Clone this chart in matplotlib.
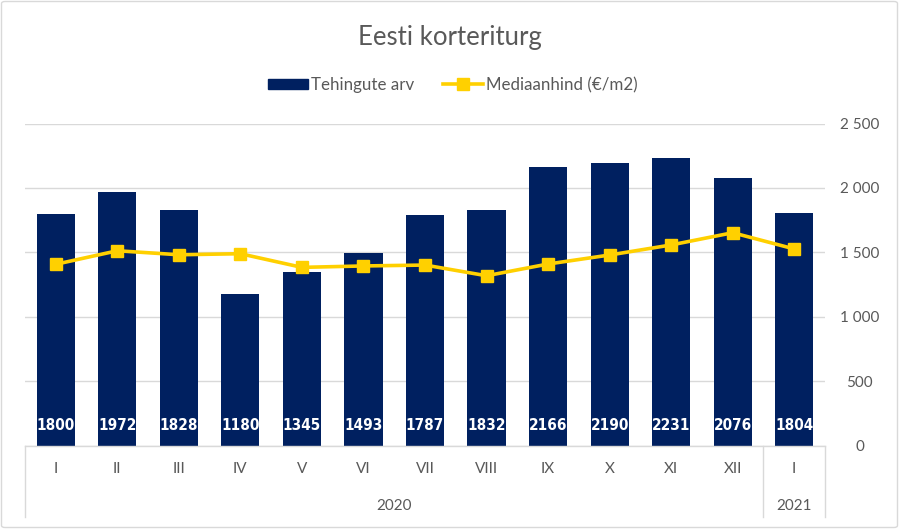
import matplotlib
matplotlib.use("Agg")
import matplotlib.pyplot as plt
import matplotlib.transforms as mtransforms
from matplotlib.patches import FancyBboxPatch, Patch
from matplotlib.lines import Line2D
import numpy as np

months = ["I", "II", "III", "IV", "V", "VI", "VII", "VIII", "IX", "X", "XI", "XII", "I"]
years = ["2020", "2021"]
year_counts = [12, 1]
tehingute_arv = [1800, 1972, 1828, 1180, 1345, 1493, 1787, 1832, 2166, 2190, 2231, 2076, 1804]
mediaanhind = [1407, 1512, 1481, 1489, 1383, 1394, 1401, 1318, 1409, 1479, 1557, 1652, 1526]
y_ticks = [0, 500, 1000, 1500, 2000, 2500]

title = "Eesti korteriturg"
bar_label = "Tehingute arv"
line_label = "Mediaanhind (€/m2)"

NAVY = "#002060"
YELLOW = "#FFD000"
GRAY_TXT = "#595959"
GRID = "#D9D9D9"
FONT = "Lato"

W, H = 899, 529
fig = plt.figure(figsize=(W / 100, H / 100), dpi=100)
fig.patch.set_facecolor("white")

# axes in pixel coords
left, right, bottom, top = 25, 825, 445.5, 123.5
ax = fig.add_axes([left / W, 1 - bottom / H, (right - left) / W, (bottom - top) / H])

x = np.arange(len(months))
ax.bar(x, tehingute_arv, width=0.62, color=NAVY, zorder=2)
ax.plot(x, mediaanhind, color=YELLOW, lw=2.6, marker="s", ms=8, zorder=3)

for xi, v in zip(x, tehingute_arv):
    ax.text(xi, 155, str(v), ha="center", va="center", color="white",
            fontsize=11, fontweight="bold", family="DejaVu Sans", fontstretch="condensed", zorder=4)

ax.set_xlim(-0.5, len(months) - 0.5)
ax.set_ylim(0, 2500)
ax.set_yticks(y_ticks)
ax.set_yticklabels([f"{t:,}".replace(",", " ") for t in y_ticks])
ax.yaxis.tick_right()
ax.tick_params(axis="y", length=0, pad=25, labelcolor=GRAY_TXT, labelsize=11)
for lab in ax.get_yticklabels():
    lab.set_horizontalalignment("center")
    lab.set_family(FONT)
ax.set_xticks([])
for s in ax.spines.values():
    s.set_visible(False)
ax.grid(axis="y", color=GRID, lw=1, zorder=0)
ax.set_axisbelow(True)

# category axis box
tr = mtransforms.blended_transform_factory(ax.transData, ax.transAxes)
box_bottom = (bottom - 517) / (bottom - top)
ax.plot([-0.5, len(months) - 0.5], [0, 0], transform=tr, color=GRID, lw=1, clip_on=False)
edges = [-0.5]
acc = -0.5
for c in year_counts:
    acc += c
    edges.append(acc)
for e in edges:
    ax.plot([e, e], [0, box_bottom], transform=tr, color=GRID, lw=1, clip_on=False)

month_y = (bottom - 469) / (bottom - top)
year_y = (bottom - 506) / (bottom - top)
for xi, m in zip(x, months):
    ax.text(xi, month_y, m, transform=tr, ha="center", va="center",
            color=GRAY_TXT, fontsize=11, family=FONT)
start = -0.5
for yname, c in zip(years, year_counts):
    ax.text(start + c / 2, year_y, yname, transform=tr, ha="center", va="center",
            color=GRAY_TXT, fontsize=11, family=FONT)
    start += c

# title
fig.text(450 / W, 1 - 37 / H, title, ha="center", va="center", fontsize=18.5,
         color=GRAY_TXT, family=FONT)

# legend
handles = [Patch(facecolor=NAVY, edgecolor=NAVY),
           Line2D([0], [0], color=YELLOW, lw=2.6, marker="s", ms=8)]
leg = fig.legend(handles, [bar_label, line_label], loc="center",
                 bbox_to_anchor=(453 / W, 1 - 85 / H), ncol=2, frameon=False,
                 prop={"family": FONT, "size": 12.2}, handlelength=2.35,
                 handletextpad=0.2, columnspacing=1.7, handleheight=0.6)
for t in leg.get_texts():
    t.set_color(GRAY_TXT)

# outer border
border = FancyBboxPatch((1.5 / W, 1.5 / H), (W - 3) / W, (H - 3) / H,
                        boxstyle="round,pad=0,rounding_size=0.004",
                        transform=fig.transFigure, facecolor="none",
                        edgecolor="#D9D9D9", lw=1)
fig.patches.append(border)

fig.savefig("out.png", dpi=100, facecolor="white")
